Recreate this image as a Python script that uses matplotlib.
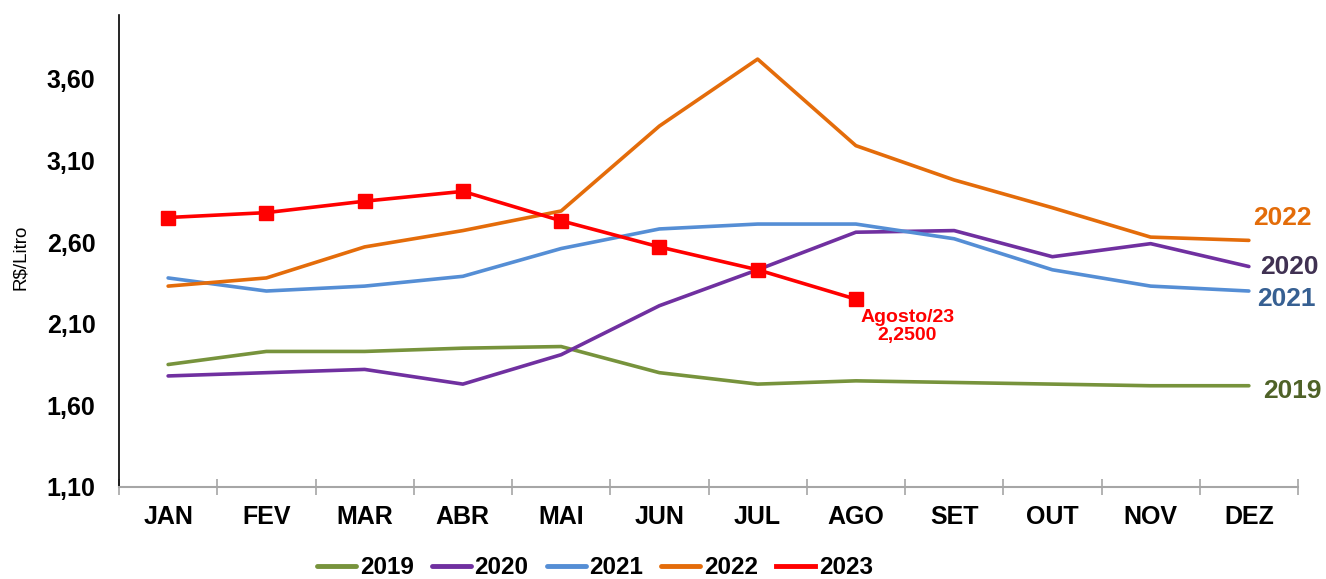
import matplotlib
matplotlib.use("Agg")
import matplotlib.pyplot as plt
import numpy as np

months = ["JAN", "FEV", "MAR", "ABR", "MAI", "JUN", "JUL", "AGO", "SET", "OUT", "NOV", "DEZ"]
s2019 = [1.85, 1.93, 1.93, 1.95, 1.96, 1.80, 1.73, 1.75, 1.74, 1.73, 1.72, 1.72]
s2020 = [1.78, 1.80, 1.82, 1.73, 1.91, 2.21, 2.43, 2.66, 2.67, 2.51, 2.59, 2.45]
s2021 = [2.38, 2.30, 2.33, 2.39, 2.56, 2.68, 2.71, 2.71, 2.62, 2.43, 2.33, 2.30]
s2022 = [2.33, 2.38, 2.57, 2.67, 2.79, 3.31, 3.72, 3.19, 2.98, 2.81, 2.63, 2.61]
s2023 = [2.75, 2.78, 2.85, 2.91, 2.73, 2.57, 2.43, 2.25]
yticks = [1.10, 1.60, 2.10, 2.60, 3.10, 3.60]
ytick_labels = ["1,10", "1,60", "2,10", "2,60", "3,10", "3,60"]

plt.rcParams['font.family'] = ['Liberation Sans', 'DejaVu Sans']

fig = plt.figure(figsize=(13.26, 5.79), dpi=100)
ax = fig.add_axes([119/1326, 1-487/579, (1298-119)/1326, (487-15)/579])

x = np.arange(len(months))
c19, c20, c21, c22, c23 = "#77933C", "#7030A0", "#558ED5", "#E46C0A", "#FF0000"
lw = 2.6
ax.plot(x, s2019, color=c19, lw=lw, label="2019", solid_capstyle='round')
ax.plot(x, s2020, color=c20, lw=lw, label="2020", solid_capstyle='round')
ax.plot(x, s2021, color=c21, lw=lw, label="2021", solid_capstyle='round')
ax.plot(x, s2022, color=c22, lw=lw, label="2022", solid_capstyle='round')
ax.plot(np.arange(len(s2023)), s2023, color=c23, lw=lw, marker='s', markersize=10,
        label="2023")

ax.set_xlim(-0.5, 11.5)
ax.set_ylim(1.10, 3.99)
ax.set_yticks(yticks)
ax.set_yticklabels(ytick_labels, fontsize=18, fontweight='bold')
ax.tick_params(axis='y', length=0, pad=17)
ax.set_xticks(x)
ax.set_xticklabels(months, fontsize=18, fontweight='bold')
ax.set_xticks(np.arange(-0.5, 12, 1), minor=True)
ax.tick_params(axis='x', which='major', length=0, pad=13)
ax.tick_params(axis='x', which='minor', length=12, direction='inout', color='#A6A6A6', width=1.2)

for s in ['top', 'right']:
    ax.spines[s].set_visible(False)
ax.spines['left'].set_color('black')
ax.spines['left'].set_linewidth(1.2)
ax.spines['bottom'].set_color('#A6A6A6')
ax.spines['bottom'].set_linewidth(1.5)

fig.text(20/1326, 1-257/579, "R$/Litro", rotation=90, fontsize=13.5, ha='center', va='center')

# end labels
lab_fs = 19
ax.annotate("2022", xy=(11, s2022[-1]), xytext=(3, 16), textcoords='offset points',
            fontsize=lab_fs, fontweight='bold', color="#E36C09", va='center', ha='left')
ax.annotate("2020", xy=(11, s2020[-1]), xytext=(8, 0), textcoords='offset points',
            fontsize=lab_fs, fontweight='bold', color="#403152", va='center', ha='left')
ax.annotate("2021", xy=(11, s2021[-1]), xytext=(6, -6), textcoords='offset points',
            fontsize=lab_fs, fontweight='bold', color="#376092", va='center', ha='left')
ax.annotate("2019", xy=(11, s2019[-1]), xytext=(10, -4), textcoords='offset points',
            fontsize=lab_fs, fontweight='bold', color="#4F6228", va='center', ha='left')

ax.annotate("Agosto/23\n2,2500", xy=(7, s2023[-1]), xytext=(37, -7), textcoords='offset points',
            fontsize=14, fontweight='bold', color=c23, ha='center', va='top',
            multialignment='center', linespacing=1.1)

leg = fig.legend(loc='center', bbox_to_anchor=(595/1326, 1-568/579), ncol=5, frameon=False,
                 prop={'size': 17.5, 'weight': 'bold'}, handlelength=1.6, handletextpad=0.15,
                 columnspacing=0.75)
for h in leg.legend_handles:
    h.set_marker('')
    h.set_linewidth(3.5)

fig.savefig("out.png", dpi=100)
